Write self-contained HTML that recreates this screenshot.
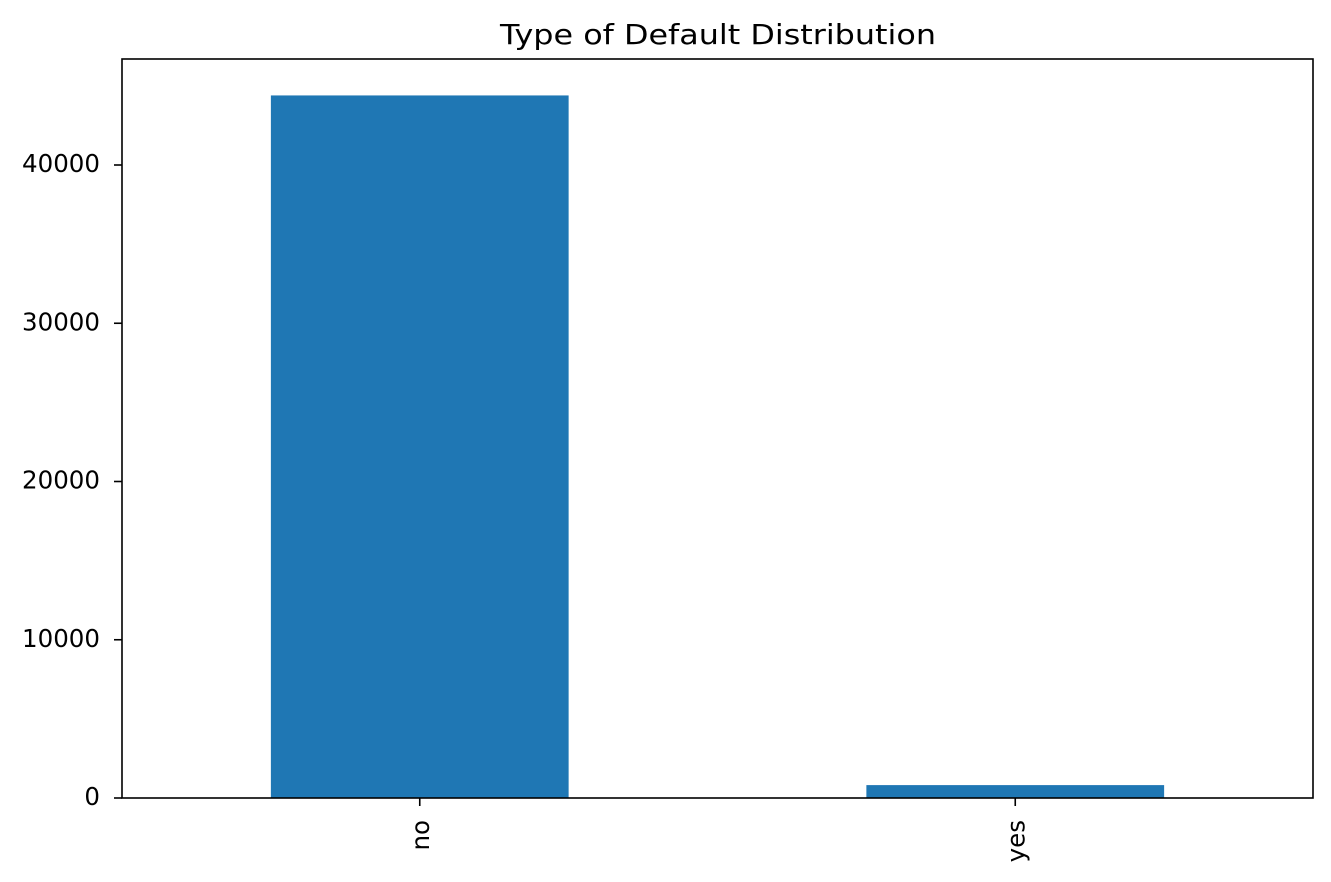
<!DOCTYPE html>
<html><head><meta charset="utf-8"><style>
html,body{margin:0;padding:0;background:#fff;}
svg{display:block;font-family:"DejaVu Sans","Liberation Sans",sans-serif;}
</style></head><body>
<svg id="chart" width="1331" height="882" viewBox="0 0 1331 882">
<text x="718" y="44" font-size="28" text-anchor="middle" fill="#000" textLength="436" lengthAdjust="spacingAndGlyphs">Type of Default Distribution</text>
<g id="bars"></g>
<g id="yticks"></g>
<g id="xticks"></g>
<rect x="122" y="59" width="1191" height="739" fill="none" stroke="#000" stroke-width="1.6"/>
</svg>
<script>
const categories = ["no", "yes"];
const counts = [44396, 815];
const yTickValues = [0, 10000, 20000, 30000, 40000];
const yTickLabels = ["0", "10000", "20000", "30000", "40000"];

const L = 122, R = 1313, T = 59, B = 798;
const yPerUnit = 158.25 / 10000;
function yScale(v){ return B - v * yPerUnit; }
const step = (R - L) / categories.length;
function xScale(i){ return L + step * (i + 0.5); }
const barW = step * 0.5;
const NS = "http://www.w3.org/2000/svg";
const gb = document.getElementById('bars');
const gy = document.getElementById('yticks');
const gx = document.getElementById('xticks');
const FS = 24.5;

categories.forEach((c, i) => {
  const r = document.createElementNS(NS, 'rect');
  r.setAttribute('x', xScale(i) - barW / 2);
  r.setAttribute('y', yScale(counts[i]));
  r.setAttribute('width', barW);
  r.setAttribute('height', B - yScale(counts[i]));
  r.setAttribute('fill', '#1f77b4');
  
  
  gb.appendChild(r);

  const tk = document.createElementNS(NS, 'line');
  tk.setAttribute('x1', xScale(i)); tk.setAttribute('x2', xScale(i));
  tk.setAttribute('y1', B); tk.setAttribute('y2', B + 8);
  tk.setAttribute('stroke', '#000'); tk.setAttribute('stroke-width', '1.6');
  
  
  gx.appendChild(tk);

  const t = document.createElementNS(NS, 'text');
  const tx = xScale(i) + 9, ty = B + 22;
  t.setAttribute('x', tx); t.setAttribute('y', ty);
  t.setAttribute('transform', 'rotate(-90 ' + tx + ' ' + ty + ')');
  t.setAttribute('text-anchor', 'end');
  t.setAttribute('font-size', FS);
  t.textContent = c;
  
  
  gx.appendChild(t);
});

yTickValues.forEach((v, i) => {
  const y = yScale(v);
  const tk = document.createElementNS(NS, 'line');
  tk.setAttribute('x1', L - 8); tk.setAttribute('x2', L);
  tk.setAttribute('y1', y); tk.setAttribute('y2', y);
  tk.setAttribute('stroke', '#000'); tk.setAttribute('stroke-width', '1.6');
  
  
  gy.appendChild(tk);
  const t = document.createElementNS(NS, 'text');
  t.setAttribute('x', L - 22); t.setAttribute('y', y + 7);
  t.setAttribute('text-anchor', 'end');
  t.setAttribute('font-size', FS);
  t.textContent = yTickLabels[i];
  
  
  gy.appendChild(t);
});
</script>
</body></html>
